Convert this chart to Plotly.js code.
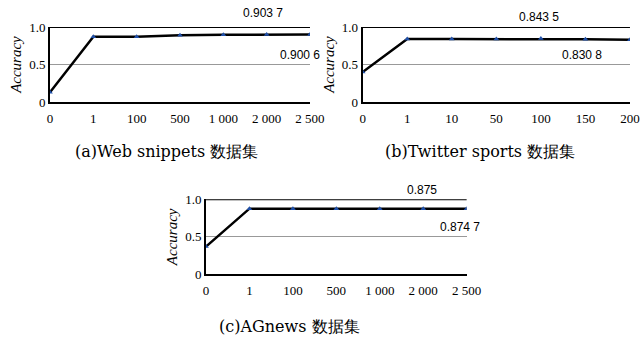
<!DOCTYPE html>
<html><head><meta charset="utf-8">
<script src="https://cdn.plot.ly/plotly-3.0.1.min.js"></script>
<style>body{margin:0;background:#fff}#c{width:641px;height:337px}</style>
</head><body><div id="c"></div>
<script>
const catsA = ['0','1','100','500','1 000','2 000','2 500'];
const valsA = [0.13, 0.87, 0.87, 0.89, 0.895, 0.90, 0.90];
const catsB = ['0','1','10','50','100','150','200'];
const valsB = [0.40, 0.84, 0.84, 0.84, 0.845, 0.835, 0.83];
const catsC = ['0','1','100','500','1 000','2 000','2 500'];
const valsC = [0.37, 0.875, 0.875, 0.875, 0.875, 0.875, 0.875];
const notesA = ['0.903 7', '0.900 6'];
const notesB = ['0.843 5', '0.830 8'];
const notesC = ['0.875', '0.874 7'];
const captions = ['(a)Web snippets 数据集', '(b)Twitter sports 数据集', '(c)AGnews 数据集'];

const serif = 'Liberation Serif';
const sans = 'Liberation Sans';
const cap = 'DejaVu Serif';

function tr(cats, vals, xa, ya){
  return {x: cats, y: vals, xaxis: xa, yaxis: ya, type: 'scatter', mode: 'lines+markers',
    line: {color: '#000', width: 2.5},
    marker: {symbol: 'triangle-up', size: 5, color: '#1f4fa8'}, hoverinfo: 'none'};
}
function xax(dom, cats, anchor){
  return {domain: dom, anchor: anchor, type: 'category', range: [0, cats.length-1],
    showgrid: false, zeroline: false, showline: true, linecolor: '#000', linewidth: 2,
    ticks: '', ticklabelstandoff: 3, tickfont: {family: serif, size: 13, color: '#000'}, fixedrange: true};
}
function yax(dom, anchor){
  return {domain: dom, anchor: anchor, range: [0, 1], tickvals: [0, 0.5, 1], ticktext: ['0','0.5','1.0'],
    showgrid: true, gridcolor: '#999', gridwidth: 1, zeroline: false,
    showline: true, linecolor: '#000', linewidth: 2, ticks: '',
    tickfont: {family: serif, size: 13, color: '#000'},
    title: {text: 'Accuracy', font: {family: serif, size: 15, color: '#000', style: 'italic'}, standoff: 4},
    fixedrange: true};
}
const topA = [0.078, 0.4836], topB = [0.5658, 0.9828], botC = [0.3214, 0.728];
const yTop = [0.697, 0.920], yBot = [0.186, 0.4086];

function topLine(xr, yr){
  return {type: 'line', xref: xr + ' domain', yref: yr, x0: 0, x1: 1, y0: 1, y1: 1,
    line: {color: '#000', width: 2}};
}
function note(text, xr, yr, xpos, ypos){
  return {text: text, xref: xr + ' domain', yref: yr + ' domain', x: xpos, y: ypos, showarrow: false,
    xanchor: 'center', yanchor: 'middle', font: {family: sans, size: 12, color: '#000'}};
}
function capt(text, x, y){
  return {text: text, xref: 'paper', yref: 'paper', x: x, y: y, showarrow: false,
    xanchor: 'center', yanchor: 'middle', font: {family: cap, size: 16, color: '#000'}};
}

const data = [tr(catsA, valsA, 'x', 'y'), tr(catsB, valsB, 'x2', 'y2'), tr(catsC, valsC, 'x3', 'y3')];
const layout = {
  width: 641, height: 337, margin: {l: 0, r: 0, t: 0, b: 0},
  paper_bgcolor: '#fff', plot_bgcolor: '#fff', showlegend: false,
  xaxis: xax(topA, catsA, 'y'), yaxis: yax(yTop, 'x'),
  xaxis2: xax(topB, catsB, 'y2'), yaxis2: yax(yTop, 'x2'),
  xaxis3: xax(botC, catsC, 'y3'), yaxis3: yax(yBot, 'x3'),
  shapes: [topLine('x', 'y'), topLine('x2', 'y2'), topLine('x3', 'y3')],
  annotations: [
    note(notesA[0], 'x', 'y', 0.82, 1.19), note(notesA[1], 'x', 'y', 0.96, 0.63),
    note(notesB[0], 'x2', 'y2', 0.66, 1.13), note(notesB[1], 'x2', 'y2', 0.82, 0.63),
    note(notesC[0], 'x3', 'y3', 0.83, 1.13), note(notesC[1], 'x3', 'y3', 0.975, 0.63),
    capt(captions[0], 0.26, 0.55), capt(captions[1], 0.749, 0.55), capt(captions[2], 0.452, 0.03)
  ]
};
Plotly.newPlot('c', data, layout, {displayModeBar: false, staticPlot: true});
</script></body></html>
